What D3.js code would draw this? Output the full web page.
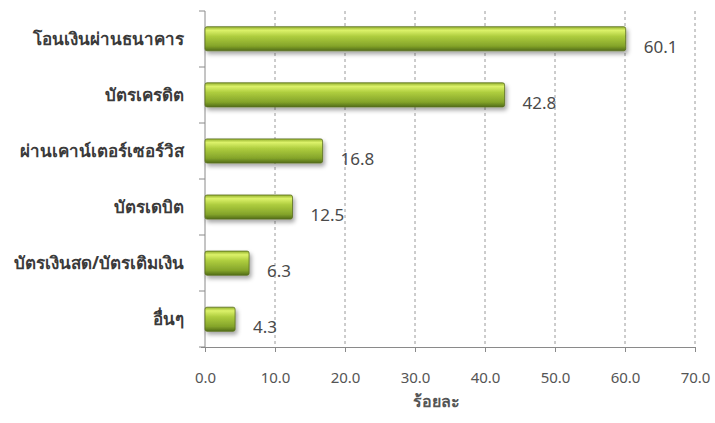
<!DOCTYPE html>
<html>
<head>
<meta charset="utf-8">
<script src="https://cdn.jsdelivr.net/npm/d3@7"></script>
<style>
  body { margin: 0; background: #fff; }
  svg text { font-family: "Noto Sans", "DejaVu Sans", sans-serif; }
</style>
</head>
<body>
<div id="vis"></div>
<script>
const WIDTH = 715;
const HEIGHT = 423;

// ข้อมูล
const categories = ["โอนเงินผ่านธนาคาร", "บัตรเครดิต", "ผ่านเคาน์เตอร์เซอร์วิส", "บัตรเดบิต", "บัตรเงินสด/บัตรเติมเงิน", "อื่นๆ"];
const values = [60.1, 42.8, 16.8, 12.5, 6.3, 4.3];
const ticks = [0, 10, 20, 30, 40, 50, 60, 70];
const axisTitle = "ร้อยละ";

const data = categories.map((c, i) => ({ cat: c, val: values[i] }));

const SVG = d3.select("#vis").append("svg")
  .attr("width", WIDTH)
  .attr("height", HEIGHT);

const defs = SVG.append("defs");
const grad = defs.append("linearGradient")
  .attr("id", "barGrad")
  .attr("x1", 0).attr("y1", 0).attr("x2", 0).attr("y2", 1);
grad.append("stop").attr("offset", "0%").attr("stop-color", "#93b02c");
grad.append("stop").attr("offset", "15%").attr("stop-color", "#dcf26a");
grad.append("stop").attr("offset", "40%").attr("stop-color", "#aecd3e");
grad.append("stop").attr("offset", "80%").attr("stop-color", "#84a42a");
grad.append("stop").attr("offset", "100%").attr("stop-color", "#526d17");

const shadow = defs.append("filter").attr("id", "shadow")
  .attr("x", "-10%").attr("y", "-30%").attr("width", "130%").attr("height", "180%");
shadow.append("feDropShadow")
  .attr("dx", 2).attr("dy", 3).attr("stdDeviation", 2)
  .attr("flood-color", "#000").attr("flood-opacity", 0.35);

const x = d3.scaleLinear()
  .domain([0, 70])
  .range([205, 695]);

const y = d3.scaleBand()
  .domain(categories)
  .range([11, 347])
  .paddingInner(0.57)
  .paddingOuter(0.28);

// líneas de la grilla
SVG.append("g")
  .selectAll("line")
  .data(ticks.slice(1))
  .join("line")
  .attr("x1", d => x(d)).attr("x2", d => x(d))
  .attr("y1", 11).attr("y2", 347)
  .attr("stroke", "#9a9a9a")
  .attr("stroke-width", 1)
  .attr("stroke-dasharray", "3,3");

// eje x
const xAxis = SVG.append("g")
  .attr("transform", "translate(0,347)")
  .call(d3.axisBottom(x).tickValues(ticks).tickFormat(d3.format(".1f")).tickSizeInner(5).tickSizeOuter(0).tickPadding(20));
xAxis.select(".domain").attr("stroke", "#8a8a8a").attr("d", "M201,0.5H695");
xAxis.selectAll(".tick line").attr("stroke", "#8a8a8a");
xAxis.selectAll(".tick text")
  .attr("fill", "#555")
  .style("font-size", "15px");

// eje y
const yTicks = d3.range(categories.length + 1).map(i => 11 + i * (336 / categories.length));
SVG.append("line")
  .attr("x1", 205).attr("x2", 205)
  .attr("y1", 11).attr("y2", 347)
  .attr("stroke", "#8a8a8a");
SVG.append("g")
  .selectAll("line")
  .data(yTicks)
  .join("line")
  .attr("x1", 199).attr("x2", 205)
  .attr("y1", d => d).attr("y2", d => d)
  .attr("stroke", "#8a8a8a");

// etiquetas de categorías
SVG.append("g")
  .selectAll("text")
  .data(data)
  .join("text")
  .attr("x", 184)
  .attr("y", d => y(d.cat) + y.bandwidth() / 2)
  .attr("dy", "0.35em")
  .attr("text-anchor", "end")
  .attr("fill", "#3a3a3a")
  .style("font-size", "17px")
  .style("font-weight", "bold")
  .text(d => d.cat);

// barras
SVG.append("g")
  .selectAll("rect")
  .data(data)
  .join("rect")
  .attr("x", x(0))
  .attr("y", d => y(d.cat))
  .attr("width", d => x(d.val) - x(0))
  .attr("height", y.bandwidth())
  .attr("rx", 2)
  .attr("fill", "url(#barGrad)")
  .attr("stroke", "#5a6e20")
  .attr("stroke-width", 0.8)
  .attr("filter", "url(#shadow)");

// valores
SVG.append("g")
  .selectAll("text")
  .data(data)
  .join("text")
  .attr("x", d => x(d.val) + 18)
  .attr("y", d => y(d.cat) + y.bandwidth() / 2 + 8)
  .attr("dy", "0.35em")
  .attr("fill", "#4a4a4a")
  .style("font-size", "17px")
  .text(d => d3.format(".1f")(d.val));

// título del eje
SVG.append("text")
  .attr("x", (x(0) + x(70)) / 2 - 14)
  .attr("y", 401)
  .attr("dy", "0.35em")
  .attr("text-anchor", "middle")
  .attr("fill", "#555")
  .style("font-size", "16px")
  .style("font-weight", "bold")
  .text(axisTitle);
</script>
</body>
</html>
